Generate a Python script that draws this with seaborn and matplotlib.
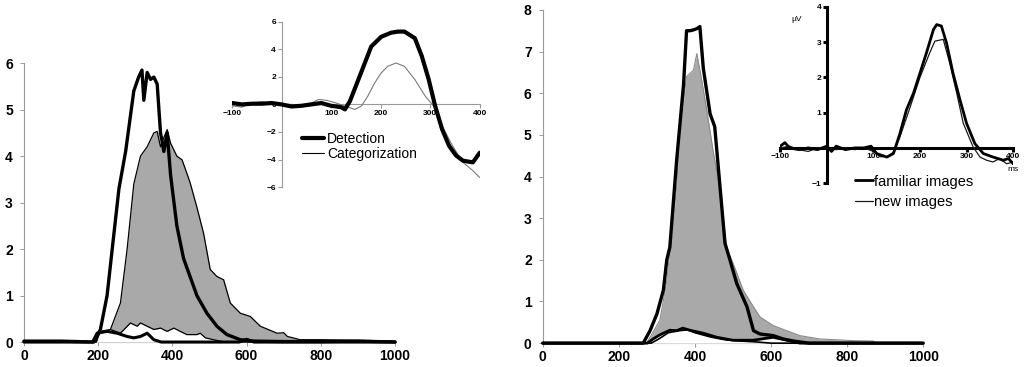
import matplotlib
matplotlib.use("Agg")
import matplotlib.pyplot as plt
import seaborn as sns

# left main panel: reaction-time distributions
det_x = [0, 100, 188, 206, 224, 242, 256, 274, 296, 309, 318, 323, 332, 341, 350, 359, 368, 377, 386, 395,
         412, 430, 448, 466, 493, 520, 547, 583, 620, 700, 800, 900, 1000]
det_y = [0.02, 0.02, 0, 0.27, 1.0, 2.3, 3.3, 4.1, 5.4, 5.7, 5.85, 5.2, 5.8, 5.65, 5.7, 5.55, 4.5, 4.1, 4.5, 3.6,
         2.5, 1.8, 1.4, 1.0, 0.62, 0.34, 0.16, 0.05, 0.02, 0.01, 0.01, 0.02, 0]
cat_x = [0, 190, 206, 233, 260, 278, 296, 314, 332, 350, 359, 368, 377, 386, 395, 412, 426, 439, 448, 466,
         484, 502, 520, 538, 556, 583, 610, 637, 682, 700, 710, 744, 800, 879, 950, 1000]
cat_y = [0, 0, 0.05, 0.27, 0.84, 2.0, 3.4, 4.0, 4.2, 4.5, 4.53, 4.2, 4.4, 4.57, 4.28, 4.0, 3.92, 3.63, 3.42, 2.9,
         2.34, 1.56, 1.41, 1.34, 0.84, 0.62, 0.55, 0.34, 0.19, 0.2, 0.12, 0.05, 0.05, 0.04, 0.03, 0.02]
cfa_x = [0, 195, 206, 233, 260, 287, 305, 314, 332, 350, 368, 386, 404, 421, 439, 466, 475, 489, 511, 540, 1000]
cfa_y = [0, 0, 0.23, 0.27, 0.19, 0.41, 0.34, 0.41, 0.34, 0.27, 0.3, 0.23, 0.3, 0.23, 0.16, 0.16, 0.19, 0.09, 0.05, 0, 0]
dfa_x = [0, 185, 197, 224, 251, 278, 296, 314, 332, 350, 370, 580, 600, 620, 1000]
dfa_y = [0, 0, 0.19, 0.23, 0.19, 0.12, 0.09, 0.12, 0.19, 0.05, 0, 0, 0.06, 0, 0]

# right main panel
fam_x = [0, 264, 282, 300, 317, 326, 334, 352, 370, 378, 387, 396, 405, 413, 422, 440, 452, 466, 479, 492,
         510, 537, 554, 571, 606, 632, 659, 700, 1000]
fam_y = [0, 0, 0.3, 0.7, 1.27, 2.0, 2.3, 4.4, 6.2, 7.5, 7.5, 7.52, 7.55, 7.6, 6.6, 5.5, 5.2, 3.75, 2.4, 2.0,
         1.43, 0.87, 0.3, 0.22, 0.18, 0.1, 0.05, 0.0, 0]
new_x = [0, 273, 308, 326, 343, 352, 361, 378, 396, 405, 418, 431, 448, 466, 483, 501, 527, 554, 571, 606,
         641, 676, 729, 816, 869, 880, 1000]
new_y = [0, 0, 0.55, 1.5, 3.0, 3.75, 5.2, 6.4, 6.55, 6.95, 6.3, 5.6, 4.6, 3.7, 2.3, 1.9, 1.27, 0.87, 0.63, 0.42,
         0.3, 0.18, 0.1, 0.06, 0.05, 0, 0]
ffa_x = [0, 275, 290, 308, 334, 352, 368, 387, 421, 458, 500, 553, 605, 642, 676, 1000]
ffa_y = [0, 0, 0.1, 0.2, 0.31, 0.3, 0.36, 0.31, 0.24, 0.14, 0.07, 0.07, 0.14, 0.07, 0, 0]
nfa_x = [0, 285, 305, 330, 360, 380, 400, 440, 480, 520, 560, 600, 1000]
nfa_y = [0, 0, 0.1, 0.25, 0.3, 0.32, 0.25, 0.15, 0.08, 0.05, 0.03, 0, 0]

# left inset ERP
li_det_x = [-100, -80, -60, -40, -20, 0, 20, 40, 60, 80, 100, 120, 128, 138, 155, 168, 181, 201, 221, 235,
            248, 269, 283, 297, 310, 324, 338, 352, 366, 386, 400]
li_det_y = [0.1, 0.0, 0.05, 0.05, 0.1, 0, -0.15, -0.1, 0, 0.1, -0.1, -0.2, -0.36, 0.24, 1.8, 3.0, 4.2, 4.9, 5.2, 5.28,
            5.28, 4.8, 3.5, 1.8, -0.12, -1.8, -3.0, -3.7, -4.08, -4.2, -3.5]
li_cat_x = [-100, -80, -60, -40, -20, 0, 20, 40, 60, 75, 90, 110, 128, 148, 161, 174, 188, 201, 214, 231,
            248, 269, 290, 307, 324, 345, 366, 386, 400]
li_cat_y = [-0.1, -0.2, 0.1, 0.2, 0.05, 0, 0, -0.05, 0.1, 0.36, 0.3, 0.1, -0.12, -0.36, -0.12, 0.6, 1.56, 2.28, 2.76, 3.0,
            2.76, 1.8, 0.6, -0.12, -1.56, -3.0, -4.2, -4.8, -5.3]

# right inset ERP
ri_fam_x = [-100, -90, -80, -60, -40, -20, 0, 10, 20, 40, 60, 80, 95, 107, 129, 143, 157, 171, 186, 200,
            214, 229, 236, 246, 257, 271, 286, 300, 318, 336, 357, 379, 390, 400]
ri_fam_y = [0.05, 0.15, 0.0, -0.05, 0.0, -0.05, 0.05, -0.1, 0.05, -0.05, 0.0, 0.0, 0.05, -0.16, -0.26, -0.16, 0.41, 1.08, 1.55, 2.12,
            2.7, 3.36, 3.5, 3.46, 2.98, 2.12, 1.36, 0.7, 0.12, -0.16, -0.26, -0.35, -0.3, -0.45]
ri_new_x = [-100, -80, -60, -40, -20, 0, 20, 40, 60, 80, 100, 115, 130, 145, 157, 180, 200, 221, 232, 250,
            264, 279, 293, 314, 329, 343, 357, 371, 386, 400]
ri_new_y = [0.0, 0.05, -0.05, -0.1, 0.0, 0.0, -0.05, 0.0, -0.05, 0.0, -0.1, -0.25, -0.25, -0.1, 0.31, 1.2, 2.0, 2.7, 3.03, 3.08,
            2.4, 1.55, 0.7, 0.03, -0.26, -0.35, -0.4, -0.3, -0.45, -0.4]

sns.set_style("white")
plt.rcParams['font.family'] = ['Liberation Sans', 'DejaVu Sans']
plt.rcParams['text.color'] = 'black'

GRAY = "#a9a9a9"
SPINE = "#9a9a9a"

fig = plt.figure(figsize=(10.28, 3.67), dpi=100)


def style_main(ax, ymax):
    ax.set_xlim(0, 1000)
    ax.set_ylim(0, ymax)
    ax.set_xticks(range(0, 1001, 200))
    ax.set_yticks(range(0, ymax + 1))
    for s in ["top", "right"]:
        ax.spines[s].set_visible(False)
    for s in ["left", "bottom"]:
        ax.spines[s].set_color(SPINE)
        ax.spines[s].set_linewidth(0.8)
    ax.tick_params(axis="both", length=3, width=0.7, color=SPINE, labelsize=10, pad=2,
                   labelcolor="black", bottom=True, left=True)
    ax.tick_params(axis="y", pad=5)
    for lab in ax.get_xticklabels() + ax.get_yticklabels():
        lab.set_fontweight("bold")
    ax.set_xlabel("")
    ax.set_ylabel("")


# ---- left main
ax1 = fig.add_axes([0.0233, 0.068, 0.361, 0.76])
ax1.fill_between(cat_x, cat_y, color=GRAY, lw=0, zorder=1)
sns.lineplot(x=cat_x, y=cat_y, ax=ax1, color="black", lw=0.9, zorder=2, estimator=None, sort=False)
ax1.fill_between(cfa_x, cfa_y, color="white", lw=0, zorder=3)
sns.lineplot(x=cfa_x, y=cfa_y, ax=ax1, color="black", lw=0.9, zorder=4, estimator=None, sort=False)
sns.lineplot(x=dfa_x, y=dfa_y, ax=ax1, color="black", lw=2.2, zorder=5, estimator=None, sort=False)
sns.lineplot(x=det_x, y=det_y, ax=ax1, color="black", lw=2.4, zorder=6, estimator=None, sort=False)
for ln in ax1.lines:
    ln.set_clip_on(False)
style_main(ax1, 6)

# ---- right main
ax2 = fig.add_axes([0.528, 0.065, 0.37, 0.908])
ax2.fill_between(new_x, new_y, color=GRAY, lw=0, zorder=1)
sns.lineplot(x=new_x, y=new_y, ax=ax2, color="#8a8a8a", lw=0.8, zorder=2, estimator=None, sort=False)
ax2.fill_between(ffa_x, ffa_y, color="white", lw=0, zorder=3)
sns.lineplot(x=nfa_x, y=nfa_y, ax=ax2, color="black", lw=1.2, zorder=4, estimator=None, sort=False)
sns.lineplot(x=ffa_x, y=ffa_y, ax=ax2, color="black", lw=2.0, zorder=5, estimator=None, sort=False)
sns.lineplot(x=fam_x, y=fam_y, ax=ax2, color="black", lw=2.4, zorder=6, estimator=None, sort=False)
for ln in ax2.lines:
    ln.set_clip_on(False)
style_main(ax2, 8)


def style_inset(ax, ymin, ymax, yticks, color, lw, labelsize):
    ax.set_xlim(-100, 400)
    ax.set_ylim(ymin, ymax)
    ax.patch.set_alpha(0)
    for s in ["top", "right"]:
        ax.spines[s].set_visible(False)
    for s in ["left", "bottom"]:
        ax.spines[s].set_position(("data", 0))
        ax.spines[s].set_color(color)
        ax.spines[s].set_linewidth(lw)
    ax.set_xticks([-100, 100, 200, 300, 400])
    ax.set_yticks(yticks)
    ax.tick_params(axis="both", length=3, width=lw, color=color, labelsize=labelsize, pad=1,
                   labelcolor="black", direction="out", bottom=True, left=True)
    for lab in ax.get_xticklabels() + ax.get_yticklabels():
        lab.set_fontweight("bold")
    ax.set_xlabel("")
    ax.set_ylabel("")


# ---- left inset
ax3 = fig.add_axes([0.2257, 0.49, 0.241, 0.451])
sns.lineplot(x=li_cat_x, y=li_cat_y, ax=ax3, color="#7a7a7a", lw=0.8, label="Categorization",
             estimator=None, sort=False, zorder=3)
sns.lineplot(x=li_det_x, y=li_det_y, ax=ax3, color="black", lw=3.0, label="Detection",
             estimator=None, sort=False, zorder=4)
style_inset(ax3, -6, 6, [-6, -4, -2, 0, 2, 4, 6], SPINE, 0.8, 6)
h, l = ax3.get_legend_handles_labels()
leg3 = ax3.legend(h[::-1], l[::-1], loc="upper left", bbox_to_anchor=(0.255, 0.375), frameon=False,
                  fontsize=10, handlelength=1.6, handletextpad=0.2, labelspacing=0.05, borderpad=0)
leg3.get_lines()[1].set_color("black")

# ---- right inset
ax4 = fig.add_axes([0.759, 0.501, 0.2265, 0.48])
sns.lineplot(x=ri_new_x, y=ri_new_y, ax=ax4, color="#1a1a1a", lw=0.9, label="new images",
             estimator=None, sort=False, zorder=3)
sns.lineplot(x=ri_fam_x, y=ri_fam_y, ax=ax4, color="black", lw=2.0, label="familiar images",
             estimator=None, sort=False, zorder=4)
style_inset(ax4, -1, 4, [-1, 1, 2, 3, 4], "black", 2.2, 6)
h, l = ax4.get_legend_handles_labels()
ax4.legend(h[::-1], l[::-1], loc="upper left", bbox_to_anchor=(0.29, 0.09), frameon=False,
           fontsize=10.5, handlelength=1.2, handletextpad=0.1, labelspacing=0.45, borderpad=0)
ax4.text(0.07, 0.93, "µV", transform=ax4.transAxes, fontsize=6, ha="center", va="center")
ax4.text(1.0, 0.08, "ms", transform=ax4.transAxes, fontsize=6, ha="center", va="center")

fig.savefig("out.png", dpi=100)
